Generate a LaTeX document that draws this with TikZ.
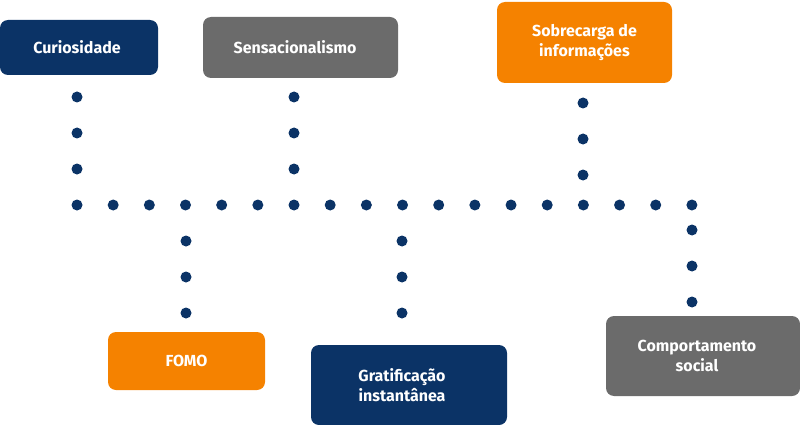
\documentclass[tikz,border=0pt]{standalone}
\usepackage{fontspec}
\setmainfont{Fira Sans}
\definecolor{navy}{HTML}{0B3366}
\definecolor{gry}{HTML}{6B6B6B}
\definecolor{org}{HTML}{F58200}
\begin{document}
\begin{tikzpicture}[x=1pt,y=-1pt,
  box/.style={rounded corners=8pt,text=white,font=\bfseries\fontsize{16}{20}\selectfont,align=center,inner sep=0pt},
  dot/.style={circle,fill=navy,minimum size=11pt,inner sep=0pt}]
\useasboundingbox (0,0) rectangle (800,425);
\fill[navy,rounded corners=8pt] (0,20) rectangle (158,75);
\node[box] (c) at (77,47.5) {Curiosidade};
\fill[gry,rounded corners=8pt] (203,17) rectangle (398,78);
\node[box] (s) at (295,47.5) {Sensacionalismo};
\fill[org,rounded corners=8pt] (497,2) rectangle (672,83);
\node[box] (o) at (584.5,42.5) {Sobrecarga de\\informações};
\fill[org,rounded corners=8pt] (108,332) rectangle (265,390);
\node[box] (f) at (186.5,361) {FOMO};
\fill[navy,rounded corners=8pt] (311,345) rectangle (507,425);
\node[box] (g) at (402,385) {Gratificação\\instantânea};
\fill[gry,rounded corners=8pt] (606,316) rectangle (800,396);
\node[box] (p) at (697,356) {Comportamento\\social};
\foreach \i in {0,...,17} \node[dot] (h\i) at ({77+\i*36.17},205) {};
\foreach \y [count=\k] in {97,133,169} {
  \node[dot] (a\k) at (77,\y) {};
  \node[dot] (b\k) at (294,\y) {};}
\foreach \y [count=\k] in {103,139,175} \node[dot] (d\k) at (583,\y) {};
\foreach \y [count=\k] in {241,277,313} {
  \node[dot] (e\k) at (186,\y) {};
  \node[dot] (q\k) at (402,\y) {};}
\foreach \y [count=\k] in {230,266,302} \node[dot] (r\k) at (692,\y) {};
\end{tikzpicture}
\end{document}
